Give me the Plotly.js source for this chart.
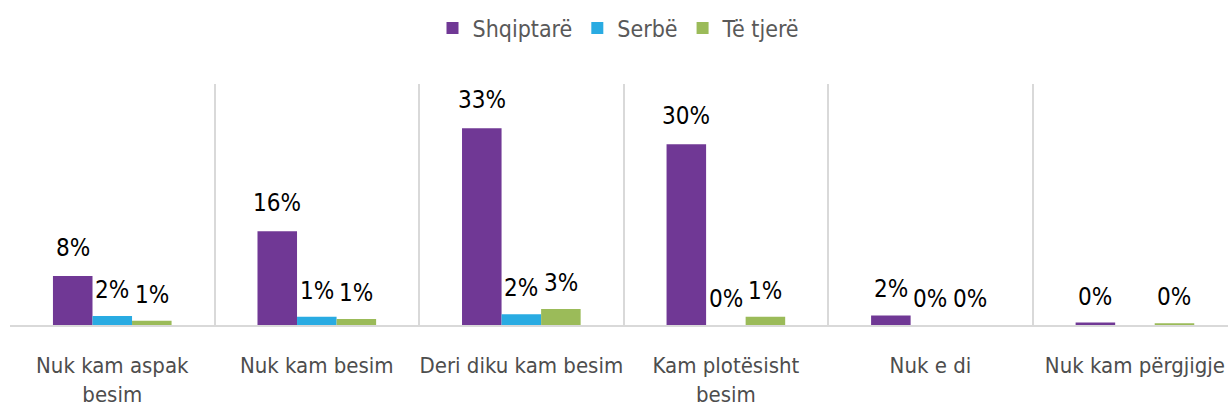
<!DOCTYPE html>
<html>
<head>
<meta charset="utf-8">
<script src="https://cdn.plot.ly/plotly-3.0.1.min.js"></script>
<style>html,body{margin:0;padding:0;background:#fff;}#chart{width:1228px;height:414px;}</style>
</head>
<body>
<div id="chart"></div>
<script>
const categories = ["Nuk kam aspak<br>besim", "Nuk kam besim", "Deri diku kam besim", "Kam plotësisht<br>besim", "Nuk e di", "Nuk kam përgjigje"];
const seriesNames = ["Shqiptarë", "Serbë", "Të tjerë"];
const shqiptare = [8.2, 15.7, 33.0, 30.3, 1.6, 0.4];
const serbe = [1.5, 1.4, 1.8, 0, 0, null];
const teTjere = [0.7, 1.0, 2.7, 1.4, 0, 0.3];
const colors = ["#703895", "#29ABE2", "#9BBB59"];

const FONT = '"Liberation Sans Narrow", "DejaVu Sans Condensed", sans-serif';
const W = 1228, H = 414;
const margin = {l: 10, r: 0, t: 84, b: 89};
const xRange = [-0.5, 5.455];
const bargap = 0.42;

const allSeries = [shqiptare, serbe, teTjere];
const traces = allSeries.map((vals, s) => ({
  type: 'bar',
  name: seriesNames[s],
  x: categories,
  y: vals,
  marker: {color: colors[s]},
  hoverinfo: 'none'
}));

const plotW = W - margin.l - margin.r;
const pxPerCat = plotW / (xRange[1] - xRange[0]);
const barPx = pxPerCat * (1 - bargap) / allSeries.length;

const annotations = [];
allSeries.forEach((vals, s) => {
  vals.forEach((v, i) => {
    if (v === null || v === undefined) return;
    annotations.push({
      x: categories[i], y: v, xref: 'x', yref: 'y',
      text: Math.round(v) + '%',
      showarrow: false,
      xanchor: 'center', yanchor: 'bottom',
      xshift: (s - (allSeries.length - 1) / 2) * barPx,
      yshift: v > 5 ? 12 : 10,
      font: {family: FONT, size: 24, color: '#000000'}
    });
  });
});

const layout = {
  width: W, height: H,
  margin: margin,
  paper_bgcolor: '#ffffff', plot_bgcolor: '#ffffff',
  barmode: 'group',
  bargap: bargap, bargroupgap: 0,
  showlegend: true,
  legend: {
    orientation: 'h', x: 0.5, xanchor: 'center',
    yref: 'container', y: 1 - 28 / H, yanchor: 'middle',
    font: {family: FONT, size: 23, color: '#595959'},
    itemclick: false, itemdoubleclick: false
  },
  xaxis: {
    type: 'category', range: xRange,
    showgrid: true, gridcolor: '#D9D9D9', gridwidth: 2,
    tickson: 'boundaries', ticks: '', ticklabelstandoff: 20, tickangle: 0,
    showline: true, linecolor: '#D9D9D9', linewidth: 2,
    tickfont: {family: FONT, size: 22, color: '#4D4D4D'},
    fixedrange: true
  },
  yaxis: {
    range: [0, 40.4], visible: false, showgrid: false, zeroline: false, fixedrange: true
  },
  annotations: annotations
};

Plotly.newPlot('chart', traces, layout, {displayModeBar: false, staticPlot: true});
</script>
</body>
</html>
